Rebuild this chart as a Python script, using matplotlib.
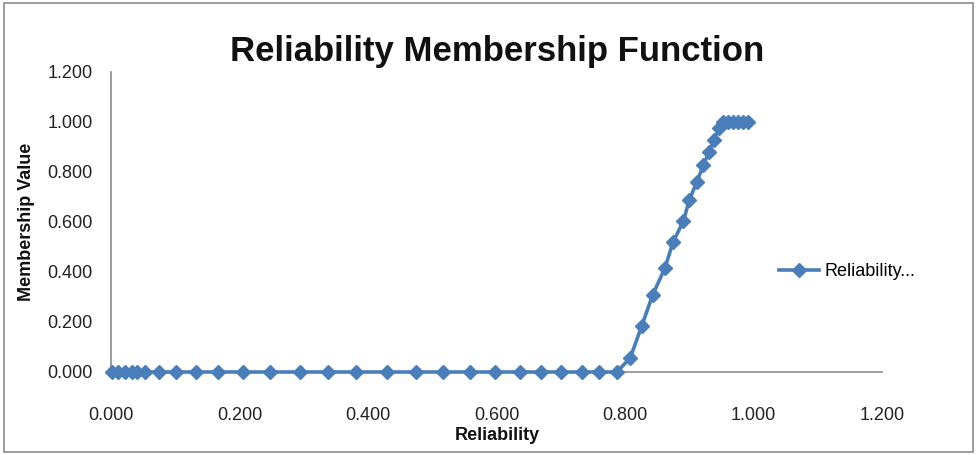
import matplotlib
matplotlib.use("Agg")
import matplotlib.pyplot as plt
from matplotlib.patches import Rectangle

# Data
reliability = [0.001, 0.011, 0.022, 0.032, 0.040, 0.053, 0.074, 0.101, 0.133, 0.167,
               0.206, 0.247, 0.294, 0.338, 0.382, 0.429, 0.475, 0.517, 0.558, 0.598,
               0.637, 0.670, 0.701, 0.733, 0.760, 0.787,
               0.808, 0.826, 0.843, 0.862, 0.875, 0.891, 0.900, 0.912, 0.922, 0.931,
               0.938, 0.947,
               0.952, 0.960, 0.968, 0.976, 0.984, 0.991]
membership = [0.0] * 26 + [0.055, 0.184, 0.308, 0.415, 0.521, 0.604, 0.688, 0.761, 0.828,
                           0.881, 0.928, 0.975,
                           1.0, 1.0, 1.0, 1.0, 1.0, 1.0]
tick_vals = [0.0, 0.2, 0.4, 0.6, 0.8, 1.0, 1.2]
tick_labels = ["0.000", "0.200", "0.400", "0.600", "0.800", "1.000", "1.200"]

FONT = ["Liberation Sans", "DejaVu Sans"]
plt.rcParams["font.family"] = FONT

fig = plt.figure(figsize=(9.76, 4.55), dpi=100)
ax = fig.add_axes([111 / 976, 1 - 372 / 455, (882 - 111) / 976, (372 - 72) / 455])

blue = "#4A7EBB"
ax.plot(reliability, membership, color=blue, lw=2.6, marker="D", ms=7.5,
        markerfacecolor=blue, markeredgecolor=blue, label="Reliability...", clip_on=False, zorder=3)

ax.set_xlim(0, 1.2)
ax.set_ylim(0, 1.2)
ax.set_xticks(tick_vals)
ax.set_xticklabels(tick_labels)
ax.set_yticks(tick_vals)
ax.set_yticklabels(tick_labels)
ax.tick_params(length=0, labelsize=13, colors="#222222")
ax.tick_params(axis="y", pad=13)
ax.tick_params(axis="x", pad=25)
for s in ["top", "right"]:
    ax.spines[s].set_visible(False)
for s in ["left", "bottom"]:
    ax.spines[s].set_color("#8C8C8C")
    ax.spines[s].set_linewidth(1.2)

fig.text(497 / 976, 1 - 52 / 455, "Reliability Membership Function", ha="center", va="center",
         fontsize=25, fontweight="bold", color="#111111")
fig.text(497 / 976, 1 - 436 / 455, "Reliability", ha="center", va="center",
         fontsize=13, fontweight="bold", color="#111111")
fig.text(27 / 976, 1 - 222 / 455, "Membership Value", ha="center", va="center", rotation=90,
         fontsize=13, fontweight="bold", color="#111111")

ax.legend(loc="center left", bbox_to_anchor=(763 / 976, 1 - 272 / 455),
          bbox_transform=fig.transFigure, frameon=False, fontsize=13,
          handlelength=2.2, handletextpad=0.3)

fig.patches.append(Rectangle((4 / 976, 3 / 455), 969 / 976, 449 / 455, transform=fig.transFigure,
                             fill=False, edgecolor="#8C8C8C", lw=1.2))

fig.savefig("out.png", dpi=100)
